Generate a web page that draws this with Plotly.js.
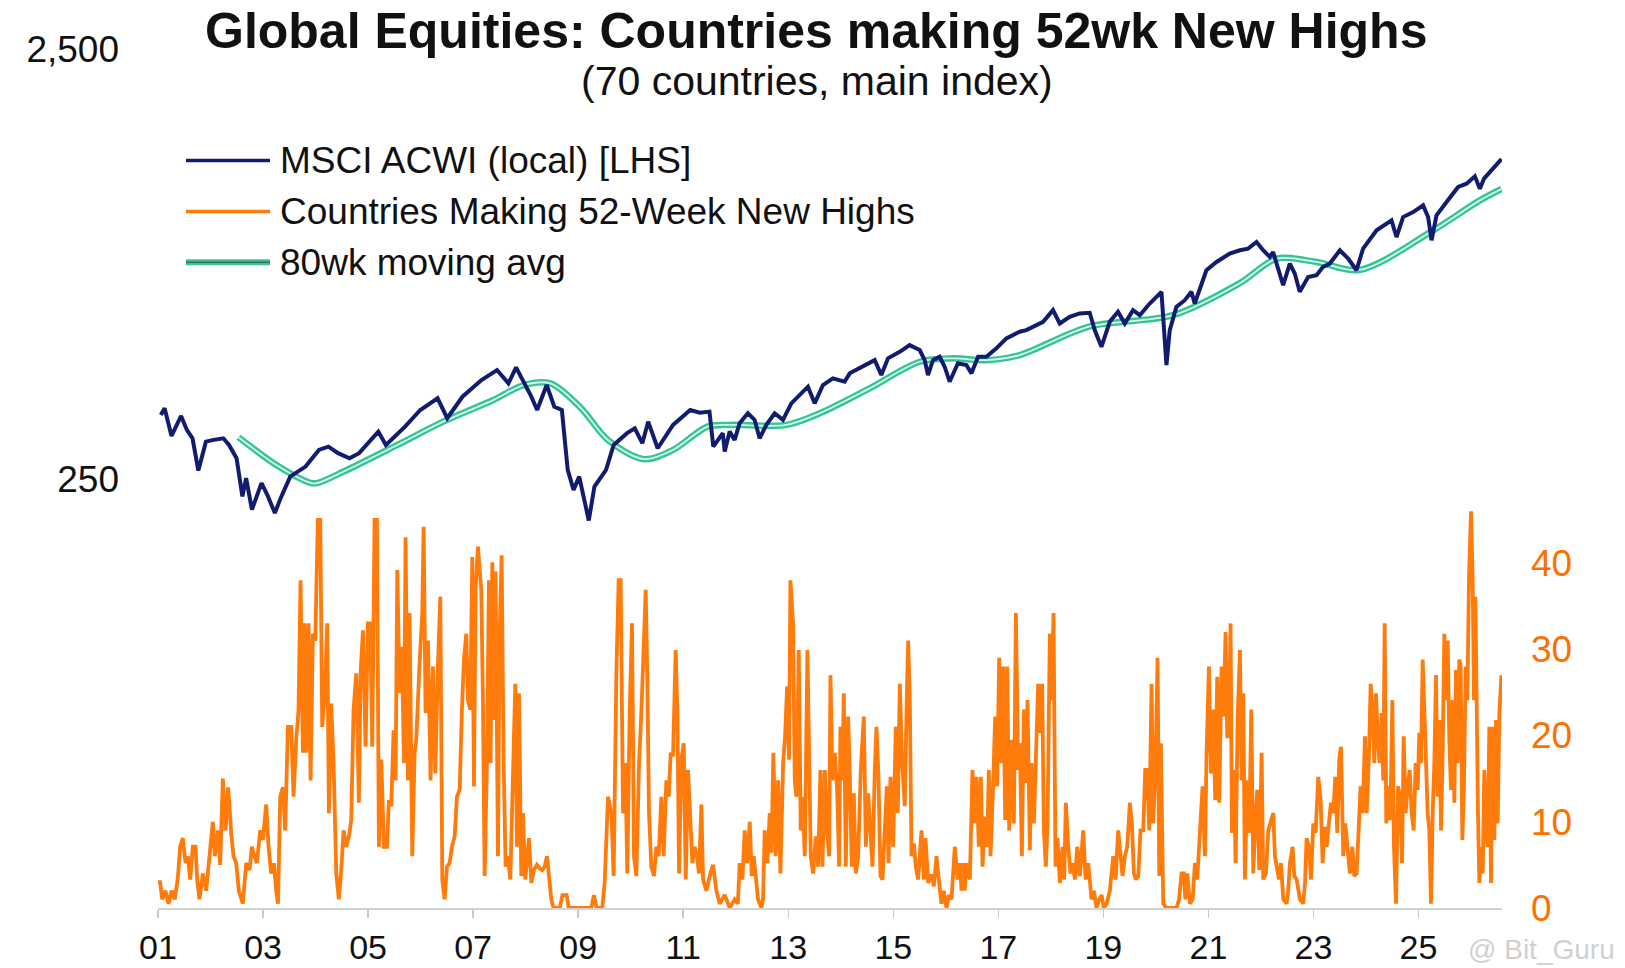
<!DOCTYPE html>
<html>
<head>
<meta charset="utf-8">
<script src="https://cdn.plot.ly/plotly-3.0.1.min.js"></script>
<style>
html,body{margin:0;padding:0;background:#ffffff;}
#chart{width:1625px;height:968px;}
</style>
</head>
<body>
<div id="chart"></div>
<script>
// ---------------- DATA ----------------
const xTickYears = [2001,2003,2005,2007,2009,2011,2013,2015,2017,2019,2021,2023,2025];
const xTickLabels = ['01','03','05','07','09','11','13','15','17','19','21','23','25'];
const leftTickValues = [250, 2500];
const leftTickLabels = ['250', '2,500'];
const rightTickValues = [0, 10, 20, 30, 40];

// MSCI ACWI (local) level (log scale)
const acwiYear = [2001.053,2001.126,2001.257,2001.440,2001.549,2001.657,2001.768,2001.912,2002.060,2002.244,2002.352,2002.496,2002.607,2002.678,2002.788,2002.970,2003.081,2003.225,2003.335,2003.517,2003.809,2004.064,2004.245,2004.429,2004.646,2004.829,2005.195,2005.339,2005.704,2005.994,2006.324,2006.507,2006.797,2007.159,2007.455,2007.672,2007.818,2007.964,2008.108,2008.219,2008.400,2008.546,2008.690,2008.801,2008.912,2009.020,2009.202,2009.310,2009.531,2009.676,2009.932,2010.078,2010.222,2010.333,2010.514,2010.807,2011.134,2011.316,2011.500,2011.573,2011.754,2011.790,2011.884,2011.979,2012.074,2012.232,2012.360,2012.455,2012.583,2012.741,2012.899,2013.059,2013.185,2013.375,2013.503,2013.661,2013.850,2014.073,2014.170,2014.423,2014.646,2014.772,2014.899,2015.122,2015.311,2015.503,2015.597,2015.661,2015.755,2015.883,2015.978,2016.073,2016.231,2016.391,2016.488,2016.614,2016.772,2016.963,2017.153,2017.407,2017.534,2017.852,2018.041,2018.170,2018.359,2018.549,2018.740,2018.835,2018.963,2019.121,2019.279,2019.407,2019.565,2019.693,2019.883,2020.106,2020.138,2020.201,2020.264,2020.390,2020.550,2020.676,2020.739,2020.836,2020.962,2021.154,2021.406,2021.598,2021.756,2021.916,2022.042,2022.169,2022.232,2022.327,2022.423,2022.550,2022.644,2022.739,2022.899,2023.059,2023.183,2023.311,2023.503,2023.661,2023.819,2023.945,2024.202,2024.486,2024.581,2024.707,2024.899,2025.088,2025.183,2025.248,2025.343,2025.534,2025.755,2025.915,2026.073,2026.168,2026.247,2026.405,2026.543,2026.580];
const acwiLevel = [351.8,364.6,314.4,349.9,324.7,310.4,261.1,304.9,307.8,310.4,299.6,279.0,227.3,250.7,211.7,244.1,229.3,207.9,225.2,252.8,266.8,291.7,296.9,286.6,279.0,286.6,321.8,299.6,330.5,361.3,384.7,345.7,388.0,424.2,447.7,416.7,454.2,420.5,388.1,361.3,413.1,367.8,361.3,262.1,235.4,252.8,199.8,239.7,262.1,299.6,319.1,327.5,302.4,339.4,294.3,333.6,361.3,356.2,358.2,296.9,319.1,289.1,321.8,307.8,336.4,355.0,342.6,310.4,333.6,355.0,342.6,374.4,388.0,409.4,374.4,413.1,428.2,420.5,439.8,455.7,472.1,435.9,476.6,493.6,511.7,498.3,472.1,435.9,472.1,480.7,455.7,420.5,464.2,459.8,439.8,480.7,480.7,502.8,530.5,549.7,554.6,579.7,617.2,574.6,595.4,606.4,608.5,554.6,507.2,579.7,611.8,574.6,617.2,600.7,639.6,681.0,595.4,459.8,554.6,628.3,651.1,681.0,639.6,687.0,764.6,799.4,836.1,851.0,858.7,889.7,851.0,821.0,843.2,771.5,705.6,792.4,751.2,681.0,737.6,744.6,778.5,792.4,851.0,813.9,764.6,858.7,947.2,999.1,913.8,1017,1044.6,1082.8,1017,897.7,1026.7,1102.1,1194.8,1216,1264.9,1184,1249.5,1313.5,1373.2,1388.4];

// 80wk moving average
const maYear = [2002.532,2003.300,2003.902,2004.026,2004.537,2005.558,2006.432,2007.382,2007.964,2008.473,2009.058,2009.567,2010.258,2010.807,2011.462,2011.884,2012.962,2013.598,2014.549,2015.503,2016.136,2016.772,2017.407,2018.726,2020.325,2021.598,2022.299,2023.059,2023.878,2025.280,2026.168,2026.580];
const maLevel = [312.2,266.8,244.5,244.1,259.8,299.6,339.4,381.1,413.1,416.7,364.6,307.6,277.5,291.7,330.5,333.6,333.6,355.0,405.8,468.0,476.6,472.1,485.2,565.1,600.7,713.4,813.7,799.4,765.7,946.8,1112,1182];

// Countries making 52-week new highs (of 70)
const highsYear = [2001.000,2001.040,2001.080,2001.140,2001.200,2001.260,2001.320,2001.378,2001.422,2001.473,2001.524,2001.568,2001.613,2001.663,2001.714,2001.746,2001.790,2001.854,2001.917,2001.981,2002.044,2002.082,2002.140,2002.184,2002.235,2002.286,2002.336,2002.394,2002.438,2002.489,2002.540,2002.616,2002.679,2002.743,2002.787,2002.838,2002.882,2002.946,2002.997,2003.060,2003.105,2003.155,2003.206,2003.251,2003.285,2003.327,2003.378,2003.422,2003.473,2003.537,2003.581,2003.632,2003.676,2003.714,2003.759,2003.790,2003.822,2003.867,2003.905,2003.949,2003.994,2004.044,2004.089,2004.127,2004.171,2004.222,2004.254,2004.298,2004.343,2004.394,2004.444,2004.489,2004.533,2004.584,2004.635,2004.679,2004.724,2004.775,2004.825,2004.857,2004.902,2004.952,2004.997,2005.041,2005.079,2005.124,2005.168,2005.206,2005.251,2005.302,2005.359,2005.397,2005.441,2005.486,2005.524,2005.556,2005.600,2005.644,2005.683,2005.714,2005.759,2005.790,2005.841,2005.886,2005.917,2005.981,2006.032,2006.057,2006.095,2006.140,2006.190,2006.235,2006.279,2006.330,2006.375,2006.413,2006.457,2006.502,2006.552,2006.597,2006.648,2006.692,2006.743,2006.787,2006.825,2006.870,2006.902,2006.946,2006.984,2007.016,2007.048,2007.092,2007.155,2007.187,2007.219,2007.263,2007.301,2007.333,2007.365,2007.397,2007.428,2007.473,2007.504,2007.543,2007.581,2007.619,2007.663,2007.708,2007.759,2007.803,2007.835,2007.873,2007.917,2007.949,2007.993,2008.025,2008.063,2008.108,2008.158,2008.216,2008.267,2008.317,2008.362,2008.406,2008.444,2008.489,2008.533,2008.650,2008.700,2008.780,2008.820,2009.250,2009.300,2009.350,2009.460,2009.505,2009.568,2009.632,2009.676,2009.727,2009.771,2009.809,2009.854,2009.898,2009.936,2009.981,2010.025,2010.063,2010.108,2010.159,2010.203,2010.247,2010.286,2010.317,2010.349,2010.393,2010.444,2010.489,2010.533,2010.584,2010.628,2010.679,2010.724,2010.762,2010.806,2010.857,2010.889,2010.921,2010.965,2011.010,2011.048,2011.092,2011.136,2011.174,2011.219,2011.263,2011.301,2011.346,2011.378,2011.440,2011.505,2011.568,2011.632,2011.695,2011.790,2011.886,2011.980,2012.040,2012.076,2012.127,2012.171,2012.216,2012.267,2012.305,2012.343,2012.381,2012.425,2012.489,2012.520,2012.552,2012.603,2012.647,2012.679,2012.717,2012.762,2012.806,2012.851,2012.902,2012.940,2012.978,2013.016,2013.041,2013.092,2013.124,2013.156,2013.200,2013.238,2013.270,2013.315,2013.365,2013.397,2013.429,2013.473,2013.524,2013.569,2013.613,2013.651,2013.696,2013.740,2013.778,2013.804,2013.842,2013.886,2013.931,2013.969,2013.994,2014.026,2014.058,2014.096,2014.140,2014.172,2014.210,2014.248,2014.286,2014.331,2014.381,2014.439,2014.477,2014.521,2014.566,2014.604,2014.648,2014.680,2014.718,2014.756,2014.794,2014.839,2014.877,2014.909,2014.947,2014.997,2015.048,2015.086,2015.124,2015.169,2015.219,2015.251,2015.283,2015.315,2015.347,2015.391,2015.429,2015.473,2015.537,2015.581,2015.613,2015.664,2015.727,2015.772,2015.823,2015.867,2015.918,2015.960,2016.013,2016.060,2016.108,2016.172,2016.223,2016.267,2016.300,2016.331,2016.360,2016.394,2016.458,2016.508,2016.553,2016.585,2016.629,2016.667,2016.699,2016.743,2016.788,2016.819,2016.851,2016.902,2016.940,2016.978,2017.016,2017.054,2017.092,2017.131,2017.169,2017.207,2017.251,2017.296,2017.334,2017.378,2017.410,2017.448,2017.486,2017.524,2017.556,2017.600,2017.632,2017.677,2017.727,2017.759,2017.804,2017.835,2017.867,2017.905,2017.937,2017.981,2018.013,2018.051,2018.089,2018.127,2018.172,2018.223,2018.254,2018.286,2018.331,2018.375,2018.413,2018.458,2018.502,2018.553,2018.616,2018.661,2018.712,2018.775,2018.820,2018.870,2018.920,2018.966,2019.010,2019.061,2019.124,2019.188,2019.232,2019.283,2019.365,2019.410,2019.454,2019.505,2019.543,2019.581,2019.619,2019.664,2019.708,2019.759,2019.797,2019.835,2019.873,2019.918,2019.949,2019.994,2020.032,2020.064,2020.095,2020.140,2020.200,2020.394,2020.440,2020.489,2020.533,2020.560,2020.597,2020.648,2020.700,2020.743,2020.787,2020.838,2020.889,2020.933,2020.965,2021.010,2021.048,2021.092,2021.130,2021.168,2021.206,2021.251,2021.289,2021.327,2021.359,2021.391,2021.422,2021.448,2021.486,2021.518,2021.556,2021.600,2021.632,2021.664,2021.695,2021.740,2021.778,2021.816,2021.854,2021.892,2021.930,2021.968,2022.013,2022.044,2022.095,2022.140,2022.184,2022.235,2022.267,2022.298,2022.343,2022.381,2022.426,2022.489,2022.520,2022.552,2022.603,2022.635,2022.679,2022.743,2022.806,2022.840,2022.870,2022.914,2022.952,2022.997,2023.041,2023.092,2023.137,2023.175,2023.213,2023.251,2023.295,2023.333,2023.378,2023.416,2023.454,2023.492,2023.524,2023.568,2023.606,2023.651,2023.695,2023.740,2023.778,2023.822,2023.860,2023.898,2023.937,2023.981,2024.013,2024.057,2024.089,2024.127,2024.159,2024.191,2024.222,2024.260,2024.298,2024.330,2024.356,2024.387,2024.425,2024.464,2024.502,2024.533,2024.572,2024.610,2024.648,2024.686,2024.718,2024.756,2024.794,2024.832,2024.870,2024.908,2024.946,2024.984,2025.016,2025.048,2025.080,2025.111,2025.143,2025.175,2025.206,2025.238,2025.270,2025.302,2025.333,2025.365,2025.397,2025.429,2025.460,2025.492,2025.524,2025.556,2025.587,2025.619,2025.651,2025.683,2025.714,2025.746,2025.778,2025.803,2025.835,2025.867,2025.899,2025.930,2025.962,2026.000,2026.032,2026.057,2026.083,2026.108,2026.133,2026.159,2026.190,2026.222,2026.254,2026.286,2026.317,2026.349,2026.381,2026.413,2026.444,2026.476,2026.508,2026.540,2026.580];
const highsCount = [3,3,1,2,0.5,2,1,3.5,7.1,8.1,5.2,6,3.3,7.1,7.1,3.3,1,4,2,6,10,6,9,5,15,9,14,8.7,6,5.2,2,0.5,5.2,4.4,7.1,6,5.2,9,7.9,12,7.1,4,5.2,2,0.5,12.9,14,9,21,21,12.9,19.5,23,38,18,33,18,33,14.8,31.8,31,45,45,21,24.5,33,11,23.7,16.8,4,1,4.4,9,7.1,8.3,10.2,23,27.2,12.2,27.2,32.2,18.7,33,33,18.7,45,45,7.1,17.2,7.1,7.1,12.5,11.8,20.6,14.8,39.2,24.9,30.3,16.8,43,14.8,34.2,6,18,19.5,28.4,34.2,44.2,22.6,31,14.8,28,15.6,28,36.1,3.3,1,4.8,5.2,7.1,8.3,12.9,13.7,23,28.8,31.8,24.1,23,40.7,14.1,37.2,41.9,36.9,24.1,3.7,16.8,38,16.8,40.1,21.8,39,6,31.5,40.9,16.8,4.8,6,3.3,16,26,7.1,24.9,3.7,11,3.3,5.2,8.1,2.9,4.4,5,4.6,4.4,4.8,6,3.3,1,0,0,1.5,1.5,0,0,1.5,0,0,3,12.9,11,3.7,27.2,38,38,11,16.8,4,22.6,33,6,3.7,16.8,22.6,31,36.9,26.4,11,4.8,3.7,7.1,6,12.9,6,14.8,12.9,18,17.6,29.9,22.6,4,17.2,19.1,3.3,16,9,5.2,7.1,6,4,12,3.3,2,3.7,5,2,0.5,1.5,0,1,0.5,5.2,3.3,9,5.2,10,3.7,6,4,1,0,1,9,5.2,11,6.4,18,6,14.8,4,16.8,19.9,25.7,17.2,38,33,14.8,12.9,29.9,9,12.9,6,29.9,14.8,6,4,8.3,4.8,16,4.8,16,8.7,6,27,14.8,18,13.7,4.8,21,14.8,24.9,4.8,22.2,15.6,4.8,13.3,4,6,16,22.2,7.1,13.3,8.7,4.8,16,21,15.2,3.7,3.3,9,14.1,5.2,15.2,7.1,21,11,26,16.8,11.8,22.6,31,24.1,6,7.5,4.8,3.3,9,3.3,8.1,2.9,3.9,2.5,6,3.3,0.5,2,0,1.5,1,7.1,3.3,5.2,2,5.2,2,5.2,3.3,16,9.8,15.2,7.1,15.2,4.8,10.6,7.1,16,6,14.5,22.2,14.1,29,16.8,28,10.2,28,9,19.5,9.8,34.2,16,19.1,6,23,14.5,24.1,6.7,16.8,9.8,18,26,20.3,26,9,4.8,9.8,31.8,24.1,34.2,4.8,8.1,2.9,7.1,3.3,12.2,7.1,4,5.2,3.3,7.1,3.7,9,3.3,5.2,1,2,0,1,1.5,0,0.5,2,6,3.3,9,3.7,6,7.1,12.2,9.8,4,3.3,3.7,9,9,16,16,9,26,9.8,16.4,29,3.7,19.1,0.5,0,0,1,4,4,1,4,0.5,1,5.2,3.3,9,14.1,6,18,28,15.6,23,12.5,26.8,12.2,28,22.2,32,19.9,19.9,33,8.7,16,5.2,21.8,29.9,14.8,24.9,3.3,14.8,8.7,23,4,9.8,13.7,4.4,18,3.3,4,9,9.8,11,6,4.8,3.3,5.2,1,0.5,2,5.2,7.1,3.7,3.3,1,0.5,3,8.1,7.1,3.3,9.8,8.7,15.2,12.5,5.2,9.4,7.1,9.4,12.2,11,15.2,8.7,17.2,18.7,6,9.8,7.1,4,7.1,3.7,4,10.6,14.1,11,19.9,11,17.6,26,22.6,16.8,24.9,19.9,16.8,22.6,14.8,33,9.8,14.1,10.2,24.1,7.1,0.5,14.1,12.9,5.2,19.9,11,14.1,16,11,9,16.8,13.7,20.3,16.8,28.8,22.6,17.2,11,9,0.5,11,16.8,27,12.9,21.8,9,18,31.8,24.1,31,19.5,13.7,24.1,12.2,27.6,16.8,28.8,28,7.9,14.8,28,24.1,38.4,46,38,24.1,36.1,21,11,2.9,7.1,4,16,9,7.1,21,2.9,21,7.9,21.8,9.8,22.6,27];

// ---------------- STYLE ----------------
const FONT = 'Liberation Sans, Arial, Helvetica, sans-serif';
const NAVY = '#111c6e';
const ORANGE = '#ff7b0c';
const ORANGE_TXT = '#ff6f00';
const TEAL = '#34c497';
const TEAL_IN = '#d9f6ea';

const traces = [
  {x: highsYear, y: highsCount, yaxis: 'y', type: 'scatter', mode: 'lines',
   line: {color: ORANGE, width: 3.8}, hoverinfo: 'skip', name: 'Countries Making 52-Week New Highs'},
  {x: maYear, y: maLevel, yaxis: 'y2', type: 'scatter', mode: 'lines',
   line: {color: TEAL, width: 6.5, shape: 'spline', smoothing: 0.9}, hoverinfo: 'skip', name: '80wk moving avg'},
  {x: maYear, y: maLevel, yaxis: 'y2', type: 'scatter', mode: 'lines',
   line: {color: TEAL_IN, width: 1.8, shape: 'spline', smoothing: 0.9}, hoverinfo: 'skip', showlegend: false},
  {x: acwiYear, y: acwiLevel, yaxis: 'y2', type: 'scatter', mode: 'lines',
   line: {color: NAVY, width: 4}, hoverinfo: 'skip', name: 'MSCI ACWI (local) [LHS]'}
];

// plot area in pixels: x 158..1502, y 49..908
const L = 158, R = 1502, T = 49, B = 908;
const px = v => (v - L) / (R - L);
const py = v => (B - v) / (B - T);

const legendRows = [
  {label: 'MSCI ACWI (local) [LHS]', y: 160.6},
  {label: 'Countries Making 52-Week New Highs', y: 211.4},
  {label: '80wk moving avg', y: 262.2}
];

const shapes = [
  {type: 'line', xref: 'paper', yref: 'paper', x0: px(186), x1: px(270), y0: py(legendRows[0].y), y1: py(legendRows[0].y), line: {color: NAVY, width: 3.5}},
  {type: 'line', xref: 'paper', yref: 'paper', x0: px(186), x1: px(270), y0: py(legendRows[1].y), y1: py(legendRows[1].y), line: {color: ORANGE, width: 3.5}},
  {type: 'line', xref: 'paper', yref: 'paper', x0: px(186), x1: px(270), y0: py(legendRows[2].y), y1: py(legendRows[2].y), line: {color: TEAL, width: 6}},
  {type: 'line', xref: 'paper', yref: 'paper', x0: px(186), x1: px(270), y0: py(legendRows[2].y), y1: py(legendRows[2].y), line: {color: '#3a6f5e', width: 1.4}}
];

const annotations = [
  {text: '<b>Global Equities: Countries making 52wk New Highs</b>', xref: 'paper', yref: 'paper',
   x: px(816), y: py(31), xanchor: 'center', yanchor: 'middle', showarrow: false,
   font: {family: FONT, size: 50, color: '#111111'}},
  {text: '(70 countries, main index)', xref: 'paper', yref: 'paper',
   x: px(817), y: py(81), xanchor: 'center', yanchor: 'middle', showarrow: false,
   font: {family: FONT, size: 41, color: '#111111'}},
  {text: '@ Bit_Guru', xref: 'paper', yref: 'paper',
   x: px(1617), y: py(949), xanchor: 'right', yanchor: 'middle', showarrow: false,
   font: {family: FONT, size: 28, color: '#d0d0d0'}}
];
legendRows.forEach(r => annotations.push({
  text: r.label, xref: 'paper', yref: 'paper', x: px(278), y: py(r.y),
  xanchor: 'left', yanchor: 'middle', showarrow: false,
  font: {family: FONT, size: 37, color: '#111111'}
}));

const layout = {
  width: 1625, height: 968,
  margin: {l: L, r: 1625 - R, t: T, b: 968 - B, pad: 0},
  paper_bgcolor: '#ffffff', plot_bgcolor: '#ffffff',
  showlegend: false, hovermode: false,
  font: {family: FONT, color: '#111111'},
  xaxis: {
    range: [2001, 2026.59], tickmode: 'array', tickvals: xTickYears, ticktext: xTickLabels,
    ticks: 'outside', ticklen: 8, tickwidth: 1.5, tickcolor: '#c9c9c9',
    showline: true, linecolor: '#d2d2d2', linewidth: 2,
    showgrid: false, zeroline: false, ticklabelstandoff: 0,
    tickfont: {family: FONT, size: 34, color: '#111111'}
  },
  yaxis: {
    side: 'right', range: [0, 99.6], tickmode: 'array', tickvals: rightTickValues,
    showgrid: false, zeroline: false, showline: false, ticks: '',
    ticklabelstandoff: 28,
    tickfont: {family: FONT, size: 37, color: ORANGE_TXT}
  },
  yaxis2: {
    overlaying: 'y', side: 'left', type: 'log',
    range: [Math.log10(25), Math.log10(2500) + 0.0008],
    tickmode: 'array', tickvals: leftTickValues, ticktext: leftTickLabels,
    showgrid: false, zeroline: false, showline: false, ticks: '',
    ticklabelstandoff: 38,
    tickfont: {family: FONT, size: 37, color: '#111111'}
  },
  shapes: shapes,
  annotations: annotations
};

Plotly.newPlot('chart', traces, layout, {displayModeBar: false, staticPlot: true});
</script>
</body>
</html>
